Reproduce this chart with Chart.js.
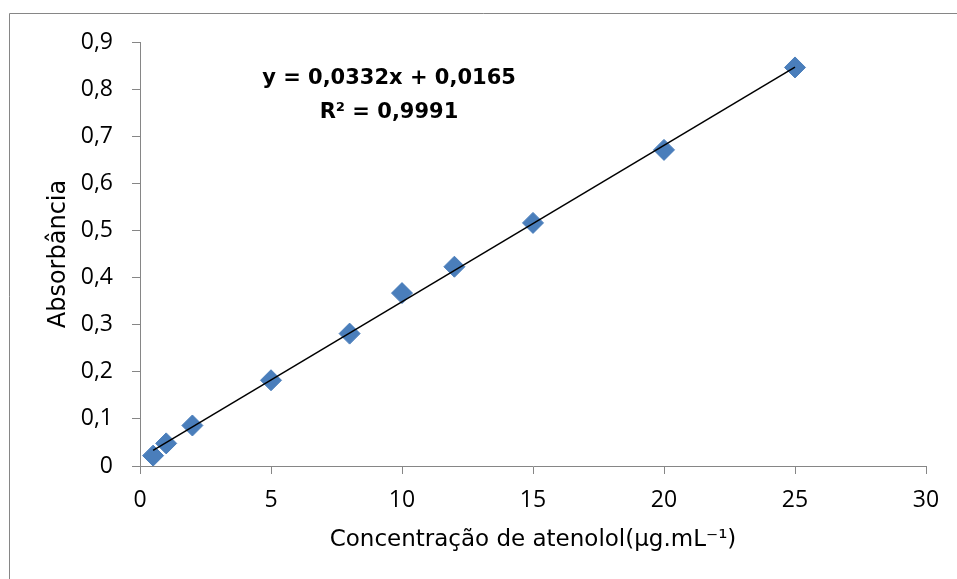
<!DOCTYPE html>
<html>
<head>
<meta charset="utf-8">
<script src="https://cdn.jsdelivr.net/npm/chart.js@4"></script>
<style>
  html, body { margin: 0; padding: 0; background: #fff; }
  #wrap { width: 957px; height: 579px; position: relative; }
</style>
</head>
<body>
<div id="wrap"><canvas id="c" width="957" height="579"></canvas></div>
<script>
// ---- data ----
const concentrations = [0.5, 1, 2, 5, 8, 10, 12, 15, 20, 25];
const absorbances    = [0.022, 0.048, 0.086, 0.182, 0.281, 0.367, 0.423, 0.516, 0.671, 0.846];
const trendSlope = 0.0332;
const trendIntercept = 0.0165;
const equationLines = ['y = 0,0332x + 0,0165', 'R² = 0,9991'];
const yTickLabels = ['0', '0,1', '0,2', '0,3', '0,4', '0,5', '0,6', '0,7', '0,8', '0,9'];
const xTickLabels = ['0', '5', '10', '15', '20', '25', '30'];
const xTitle = 'Concentração de atenolol(µg.mL⁻¹)';
const yTitle = 'Absorbância';

const points = concentrations.map((x, i) => ({ x: x, y: absorbances[i] }));
const xFirst = concentrations[0], xLast = concentrations[concentrations.length - 1];
const trendPoints = [
  { x: xFirst, y: trendSlope * xFirst + trendIntercept },
  { x: xLast,  y: trendSlope * xLast + trendIntercept }
];

const axisGray = '#868686';

const framePlugin = {
  id: 'frame',
  beforeDraw(chart) {
    const ctx = chart.ctx;
    ctx.save();
    ctx.fillStyle = '#fff';
    ctx.fillRect(0, 0, chart.width, chart.height);
    ctx.strokeStyle = axisGray;
    ctx.lineWidth = 1;
    ctx.beginPath();
    ctx.moveTo(9.5, chart.height);
    ctx.lineTo(9.5, 13.5);
    ctx.lineTo(chart.width, 13.5);
    ctx.stroke();
    ctx.restore();
  }
};

const equationPlugin = {
  id: 'equation',
  afterDatasetsDraw(chart) {
    const ctx = chart.ctx;
    const a = chart.chartArea;
    ctx.save();
    ctx.font = 'bold 21px "DejaVu Sans"';
    ctx.fillStyle = '#000';
    ctx.textAlign = 'center';
    ctx.textBaseline = 'middle';
    const cx = a.left + 249;
    ctx.fillText(equationLines[0], cx, a.top + 37);
    ctx.fillText(equationLines[1], cx, a.top + 71);
    ctx.restore();
  }
};

new Chart(document.getElementById('c'), {
  type: 'scatter',
  data: {
    datasets: [
      {
        type: 'line',
        label: 'Linear',
        data: trendPoints,
        borderColor: '#000',
        borderWidth: 1.5,
        pointRadius: 0,
        fill: false,
        tension: 0
      },
      {
        label: 'Absorbância',
        data: points,
        pointStyle: 'rectRot',
        pointRadius: 10.5,
        pointHoverRadius: 10.5,
        backgroundColor: '#4A7EBB',
        borderColor: '#4A7EBB',
        borderWidth: 1
      }
    ]
  },
  options: {
    responsive: false,
    animation: false,
    devicePixelRatio: 1,
    layout: { padding: { left: 0, right: 31, top: 42, bottom: 0 } },
    plugins: { legend: { display: false }, tooltip: { enabled: false } },
    scales: {
      x: {
        type: 'linear',
        min: 0, max: 30,
        afterFit(scale) { scale.height = 113; },
        ticks: {
          stepSize: 5,
          color: '#000',
          font: { family: '"Open Sans"', size: 23 },
          padding: 13,
          callback: (v) => { const i = xTickLabels.indexOf(String(v)); return i >= 0 ? xTickLabels[i] : ''; }
        },
        grid: { drawOnChartArea: false, drawTicks: true, tickLength: 8, color: axisGray, lineWidth: 1 },
        border: { display: true, color: axisGray, width: 1 },
        title: {
          display: true,
          text: xTitle,
          color: '#000',
          font: { family: '"DejaVu Sans"', size: 23 },
          padding: { top: 4, bottom: 25 }
        }
      },
      y: {
        type: 'linear',
        min: 0, max: 0.9,
        afterFit(scale) { scale.width = 140; },
        ticks: {
          stepSize: 0.1,
          color: '#000',
          font: { family: '"Open Sans"', size: 23 },
          padding: 19,
          callback: (v) => yTickLabels[Math.round(v * 10)]
        },
        grid: { drawOnChartArea: false, drawTicks: true, tickLength: 8, color: axisGray, lineWidth: 1 },
        border: { display: true, color: axisGray, width: 1 },
        title: {
          display: true,
          text: yTitle,
          color: '#000',
          font: { family: '"DejaVu Sans"', size: 24 },
          padding: { top: 44, bottom: 0 }
        }
      }
    }
  },
  plugins: [framePlugin, equationPlugin]
});
</script>
</body>
</html>
